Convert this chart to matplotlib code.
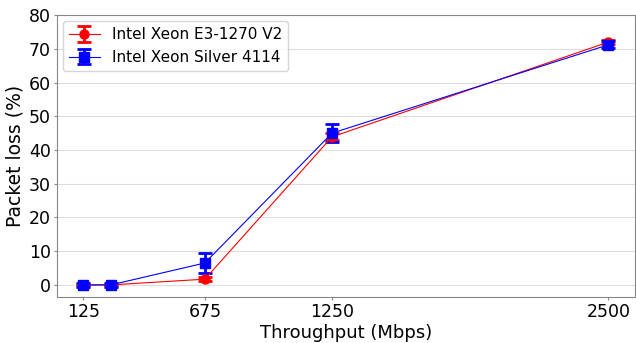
import matplotlib
matplotlib.use("Agg")
import matplotlib.pyplot as plt

throughput = [125, 250, 675, 1250, 2500]
tick_labels = [125, 675, 1250, 2500]
y_ticks = [0, 10, 20, 30, 40, 50, 60, 70, 80]

e3_loss = [0.0, 0.0, 1.7, 43.9, 72.0]
e3_err = [0.3, 0.3, 0.5, 1.0, 0.7]
silver_loss = [0.0, 0.0, 6.5, 45.0, 71.2]
silver_err = [0.5, 0.5, 2.9, 2.7, 1.0]

fig, ax = plt.subplots(figsize=(6.36, 3.43), dpi=100)
fig.subplots_adjust(left=0.0896, right=0.998, top=0.956, bottom=0.134)

ax.errorbar(throughput, e3_loss, yerr=e3_err, color="red", marker="o",
            markersize=6.5, linewidth=0.8, elinewidth=2, capsize=5, capthick=2,
            label="Intel Xeon E3-1270 V2")
ax.errorbar(throughput, silver_loss, yerr=silver_err, color="blue", marker="s",
            markersize=6.5, linewidth=0.8, elinewidth=2, capsize=5, capthick=2,
            label="Intel Xeon Silver 4114")

ax.set_ylim(-3.6, 80)
ax.set_yticks(y_ticks)
ax.set_xticks(tick_labels)
ax.set_xticklabels([str(t) for t in tick_labels])
ax.tick_params(labelsize=12.5, colors="#888888", labelcolor="black",
               length=2, pad=2.5)
ax.set_xlabel("Throughput (Mbps)", fontsize=13, labelpad=2)
ax.set_ylabel("Packet loss (%)", fontsize=13.5, labelpad=3)
ax.yaxis.grid(True, color="#dddddd", linewidth=0.8)
ax.set_axisbelow(True)
for s in ax.spines.values():
    s.set_color("#888888")
ax.legend(loc="upper left", fontsize=11, handlelength=2.0,
          borderaxespad=0.4)

fig.savefig("out.png")
